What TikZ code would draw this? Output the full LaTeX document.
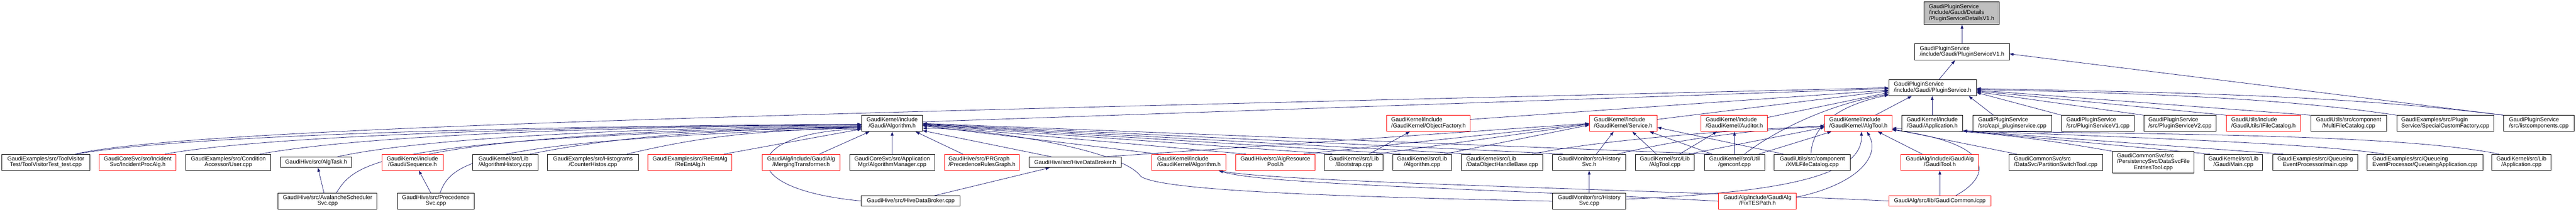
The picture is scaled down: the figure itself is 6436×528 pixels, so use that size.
\documentclass[tikz,border=0pt]{standalone}
\usepackage{fontspec}
\setmainfont{Liberation Sans}
\usetikzlibrary{arrows.meta,calc}
\definecolor{edgec}{HTML}{191970}
\definecolor{redb}{HTML}{FF0000}
\definecolor{grayf}{HTML}{BFBFBF}
\newcommand{\lblA}[1]{#1}
\newcommand{\lblB}[2]{\begin{tabular}{@{}l@{}}#1\\\multicolumn{1}{@{}c@{}}{#2}\end{tabular}}
\newcommand{\lblC}[3]{\begin{tabular}{@{}l@{}}#1\\#2\\\multicolumn{1}{@{}c@{}}{#3}\end{tabular}}
\pgfdeclarelayer{bg}
\pgfdeclarelayer{paper}
\pgfsetlayers{paper,bg,main}
\tikzset{
  box/.style={draw=black, line width=1.2pt, rectangle, inner sep=0pt, fill=white,
    font=\fontsize{14.2}{14.3}\selectfont},
  rbox/.style={box, draw=redb},
  gbox/.style={box, fill=grayf},
  dep/.style={draw=edgec, line width=1pt, -{Triangle[length=10pt,width=7pt]}},
}
\begin{document}
\begin{tikzpicture}[x=1pt,y=-1pt]
\begin{pgfonlayer}{paper}
\fill[white] (0,0) rectangle (6436,528);
\end{pgfonlayer}
\useasboundingbox (0,0) rectangle (6436,528);
% top
\node[gbox,minimum width=188pt,minimum height=56pt] (root) at (4901,33) {\lblC{GaudiPluginService}{/include/Gaudi/Details}{/PluginServiceDetailsV1.h}};
\node[box,minimum width=236pt,minimum height=41pt] (v1h) at (4902,129.5) {\lblB{GaudiPluginService}{/include/Gaudi/PluginServiceV1.h}};
\node[box,minimum width=219pt,minimum height=40pt] (psh) at (4828.5,219) {\lblB{GaudiPluginService}{/include/Gaudi/PluginService.h}};
% row D
\node[box,minimum width=152pt,minimum height=40pt] (algh) at (2229,308) {\lblB{GaudiKernel/include}{/Gaudi/Algorithm.h}};
\node[rbox,minimum width=208pt,minimum height=40pt] (objf) at (3569,308) {\lblB{GaudiKernel/include}{/GaudiKernel/ObjectFactory.h}};
\node[rbox,minimum width=169pt,minimum height=40pt] (svch) at (4055.5,308) {\lblB{GaudiKernel/include}{/GaudiKernel/Service.h}};
\node[rbox,minimum width=166pt,minimum height=40pt] (audh) at (4333,308) {\lblB{GaudiKernel/include}{/GaudiKernel/Auditor.h}};
\node[rbox,minimum width=168pt,minimum height=40pt] (atoolh) at (4643,308) {\lblB{GaudiKernel/include}{/GaudiKernel/AlgTool.h}};
\node[box,minimum width=153pt,minimum height=40pt] (apph) at (4827.5,308) {\lblB{GaudiKernel/include}{/Gaudi/Application.h}};
\node[box,minimum width=197pt,minimum height=40pt] (capi) at (5027.5,308) {\lblB{GaudiPluginService}{/src/capi\_pluginservice.cpp}};
\node[box,minimum width=181pt,minimum height=40pt] (v1cpp) at (5241.5,308) {\lblB{GaudiPluginService}{/src/PluginServiceV1.cpp}};
\node[box,minimum width=181pt,minimum height=40pt] (v2cpp) at (5446.5,308) {\lblB{GaudiPluginService}{/src/PluginServiceV2.cpp}};
\node[rbox,minimum width=186pt,minimum height=40pt] (ifc) at (5655,308) {\lblB{GaudiUtils/include}{/GaudiUtils/IFileCatalog.h}};
\node[box,minimum width=190pt,minimum height=40pt] (mfc) at (5868,308) {\lblB{GaudiUtils/src/component}{/MultiFileCatalog.cpp}};
\node[box,minimum width=243pt,minimum height=40pt] (scf) at (6109.5,308) {\lblB{GaudiExamples/src/Plugin}{Service/SpecialCustomFactory.cpp}};
\node[box,minimum width=176pt,minimum height=40pt] (lcomp) at (6343,308) {\lblB{GaudiPluginService}{/src/listcomponents.cpp}};
% row E
\node[box,minimum width=219pt,minimum height=40pt] (tv) at (114.5,405) {\lblB{GaudiExamples/src/ToolVisitor}{Test/ToolVisitorTest\_test.cpp}};
\node[rbox,minimum width=192pt,minimum height=40pt] (ipa) at (344,405) {\lblB{GaudiCoreSvc/src/Incident}{Svc/IncidentProcAlg.h}};
\node[box,minimum width=213pt,minimum height=40pt] (cau) at (570.5,405) {\lblB{GaudiExamples/src/Condition}{Accessor/User.cpp}};
\node[box,minimum width=178pt,minimum height=26pt] (atask) at (790,405) {\lblA{GaudiHive/src/AlgTask.h}};
\node[rbox,minimum width=153pt,minimum height=40pt] (seqh) at (1030.5,405) {\lblB{GaudiKernel/include}{/Gaudi/Sequence.h}};
\node[box,minimum width=163pt,minimum height=40pt] (ahist) at (1262.5,405) {\lblB{GaudiKernel/src/Lib}{/AlgorithmHistory.cpp}};
\node[box,minimum width=227pt,minimum height=40pt] (chist) at (1481.5,405) {\lblB{GaudiExamples/src/Histograms}{/CounterHistos.cpp}};
\node[rbox,minimum width=210pt,minimum height=40pt] (reent) at (1724,405) {\lblB{GaudiExamples/src/ReEntAlg}{/ReEntAlg.h}};
\node[rbox,minimum width=195pt,minimum height=40pt] (mtrans) at (2001.5,405) {\lblB{GaudiAlg/include/GaudiAlg}{/MergingTransformer.h}};
\node[box,minimum width=212pt,minimum height=40pt] (amgr) at (2229,405) {\lblB{GaudiCoreSvc/src/Application}{Mgr/AlgorithmManager.cpp}};
\node[rbox,minimum width=187pt,minimum height=40pt] (prg) at (2453.5,405) {\lblB{GaudiHive/src/PRGraph}{/PrecedenceRulesGraph.h}};
\node[box,minimum width=231pt,minimum height=26pt] (hdbh) at (2686.5,405) {\lblA{GaudiHive/src/HiveDataBroker.h}};
\node[rbox,minimum width=185pt,minimum height=40pt] (gkalg) at (2970.5,405) {\lblB{GaudiKernel/include}{/GaudiKernel/Algorithm.h}};
\node[rbox,minimum width=199pt,minimum height=40pt] (arp) at (3186.5,405) {\lblB{GaudiHive/src/AlgResource}{Pool.h}};
\node[box,minimum width=147pt,minimum height=40pt] (boot) at (3382.5,405) {\lblB{GaudiKernel/src/Lib}{/Bootstrap.cpp}};
\node[box,minimum width=146pt,minimum height=40pt] (algcpp) at (3553,405) {\lblB{GaudiKernel/src/Lib}{/Algorithm.cpp}};
\node[box,minimum width=204pt,minimum height=40pt] (dohb) at (3753,405) {\lblB{GaudiKernel/src/Lib}{/DataObjectHandleBase.cpp}};
\node[box,minimum width=183pt,minimum height=40pt] (hsvch) at (3970.5,405) {\lblB{GaudiMonitor/src/History}{Svc.h}};
\node[box,minimum width=147pt,minimum height=40pt] (atcpp) at (4159.5,405) {\lblB{GaudiKernel/src/Lib}{/AlgTool.cpp}};
\node[box,minimum width=151pt,minimum height=40pt] (genconf) at (4333.5,405) {\lblB{GaudiKernel/src/Util}{/genconf.cpp}};
\node[box,minimum width=190pt,minimum height=40pt] (xmlfc) at (4528,405) {\lblB{GaudiUtils/src/component}{/XMLFileCatalog.cpp}};
\node[rbox,minimum width=195pt,minimum height=40pt] (gtool) at (4846.5,405) {\lblB{GaudiAlg/include/GaudiAlg}{/GaudiTool.h}};
\node[box,minimum width=234pt,minimum height=40pt] (pst) at (5136,405) {\lblB{GaudiCommonSvc/src}{/DataSvc/PartitionSwitchTool.cpp}};
\node[box,minimum width=204pt,minimum height=54pt] (dsfe) at (5380,405) {\lblC{GaudiCommonSvc/src}{/PersistencySvc/DataSvcFile}{EntriesTool.cpp}};
\node[box,minimum width=146pt,minimum height=40pt] (gmain) at (5580,405) {\lblB{GaudiKernel/src/Lib}{/GaudiMain.cpp}};
\node[box,minimum width=213pt,minimum height=40pt] (qmain) at (5784.5,405) {\lblB{GaudiExamples/src/Queueing}{EventProcessor/main.cpp}};
\node[box,minimum width=289pt,minimum height=40pt] (qapp) at (6058.5,405) {\lblB{GaudiExamples/src/Queueing}{EventProcessor/QueueingApplication.cpp}};
\node[box,minimum width=147pt,minimum height=40pt] (appcpp) at (6299.5,405) {\lblB{GaudiKernel/src/Lib}{/Application.cpp}};
% row F
\node[box,minimum width=247pt,minimum height=40pt] (aval) at (818.5,502) {\lblB{GaudiHive/src/AvalancheScheduler}{Svc.cpp}};
\node[box,minimum width=192pt,minimum height=40pt] (psvc) at (1089,502) {\lblB{GaudiHive/src/Precedence}{Svc.cpp}};
\node[box,minimum width=247pt,minimum height=25pt] (hdbcpp) at (2275.5,501.5) {\lblA{GaudiHive/src/HiveDataBroker.cpp}};
\node[box,minimum width=183pt,minimum height=40pt] (hsvccpp) at (3970.5,502) {\lblB{GaudiMonitor/src/History}{Svc.cpp}};
\node[rbox,minimum width=194pt,minimum height=40pt] (fixtes) at (4391,502) {\lblB{GaudiAlg/include/GaudiAlg}{/FixTESPath.h}};
\node[rbox,minimum width=255pt,minimum height=25pt] (gcomm) at (4846.5,501.5) {\lblA{GaudiAlg/src/lib/GaudiCommon.icpp}};

\begin{pgfonlayer}{bg}
% into Gaudi/Algorithm.h from the left
\draw[dep] ($(tv.north west)+(187,0)$) .. controls +(250,-45) and +(-900,5) .. ($(algh.west)+(0,2)$);
\draw[dep] ($(ipa.north west)+(165,0)$) .. controls +(250,-45) and +(-800,5) .. ($(algh.west)+(0,3)$);
\draw[dep] ($(cau.north west)+(186,0)$) .. controls +(250,-45) and +(-700,5) .. ($(algh.west)+(0,4)$);
\draw[dep] ($(atask.north west)+(142,0)$) .. controls +(200,-45) and +(-600,5) .. ($(algh.west)+(0,6)$);
\draw[dep] ($(aval.north west)+(146,0)$) .. controls (890,400) and (960,345) .. ($(algh.west)+(0,8)$);
\draw[dep] ($(seqh.north west)+(119,0)$) .. controls +(200,-40) and +(-500,5) .. ($(algh.west)+(0,8)$);
\draw[dep] ($(psvc.north west)+(107,0)$) .. controls (1130,400) and (1200,352) .. ($(algh.west)+(0,10)$);
\draw[dep] ($(ahist.north west)+(144,0)$) .. controls +(200,-40) and +(-400,5) .. ($(algh.west)+(0,10)$);
\draw[dep] ($(chist.north west)+(199,0)$) .. controls +(150,-35) and +(-300,5) .. ($(algh.west)+(0,12)$);
\draw[dep] ($(reent.north west)+(191,0)$) -- ($(algh.west)+(0,14)$);
\draw[dep] (hdbcpp.west) .. controls (1820,470) and (1860,330) .. ($(algh.west)+(0,14)$);
\draw[dep] ($(mtrans.north west)+(144,0)$) -- ($(algh.south west)+(20,0)$);
\draw[dep] (amgr.north) -- (algh.south);
\draw[dep] ($(prg.north west)+(46,0)$) -- ($(algh.south east)+(-18,0)$);
% into Gaudi/Algorithm.h from the right
\draw[dep] ($(hdbh.north west)+(57,0)$) -- ($(algh.east)+(0,18)$);
\draw[dep] ($(gkalg.north west)+(17,0)$) -- ($(algh.east)+(0,6)$);
\draw[dep] ($(arp.north west)+(26,0)$) -- ($(algh.east)+(0,5)$);
\draw[dep] ($(boot.north west)+(20,0)$) -- ($(algh.east)+(0,4)$);
\draw[dep] ($(algcpp.north west)+(19,0)$) -- ($(algh.east)+(0,3)$);
\draw[dep] ($(dohb.north west)+(25,0)$) -- ($(algh.east)+(0,2)$);
\draw[dep] ($(hsvch.north west)+(26,0)$) -- ($(algh.east)+(0,1)$);
\draw[dep] ($(genconf.north west)+(14,0)$) -- ($(algh.east)+(0,0)$);
\draw[dep] (hsvccpp.west) .. controls (3300,490) and (2900,475) .. (2850,440) .. controls (2800,370) and (2450,320) .. ($(algh.east)+(0,12)$);
% into PluginService.h
\draw[dep] ($(algh.east)+(0,-4)$) -- ($(psh.west)+(0,2)$);
\draw[dep] ($(tv.north west)+(184,0)$) .. controls +(300,-70) and +(-2500,60) .. ($(psh.west)+(0,0)$);
\draw[dep] ($(objf.east)+(0,-10)$) -- ($(psh.west)+(0,6)$);
\draw[dep] ($(svch.east)+(0,-10)$) -- ($(psh.west)+(0,8)$);
\draw[dep] ($(audh.east)+(0,-15)$) -- ($(psh.west)+(0,12)$);
\draw[dep] ($(genconf.north west)+(101,0)$) .. controls (4430,330) and (4560,262) .. ($(psh.west)+(0,16)$);
\draw[dep] ($(xmlfc.north west)+(92,0)$) .. controls (4528,320) and (4580,266) .. ($(psh.west)+(0,18)$);
\draw[dep] ($(atoolh.north west)+(127,0)$) -- ($(psh.south west)+(58,0)$);
\draw[dep] (apph.north) -- (apph.north |- psh.south);
\draw[dep] ($(capi.north west)+(52,0)$) -- ($(psh.south east)+(-20,0)$);
\draw[dep] (v1cpp.north west) -- ($(psh.east)+(0,12)$);
\draw[dep] (v2cpp.north west) -- ($(psh.east)+(0,10)$);
\draw[dep] (ifc.north west) -- ($(psh.east)+(0,8)$);
\draw[dep] (mfc.north west) -- ($(psh.east)+(0,6)$);
\draw[dep] (scf.north west) .. controls +(-300,-45) and +(400,10) .. ($(psh.east)+(0,4)$);
\draw[dep] (lcomp.north west) .. controls +(-400,-50) and +(500,10) .. ($(psh.east)+(0,2)$);
% top chain
\draw[dep] (lcomp.north west) -- ($(v1h.east)+(0,5)$);
\draw[dep] ($(psh.north west)+(126,0)$) -- ($(v1h.south west)+(101,0)$);
\draw[dep] (v1h.north) -- (v1h.north |- root.south);
% ObjectFactory, Service, Auditor, AlgTool
\draw[dep] ($(boot.north west)+(112,0)$) -- ($(objf.south west)+(58,0)$);
\draw[dep] ($(boot.north west)+(130,0)$) -- ($(svch.west)+(0,2)$);
\draw[dep] ($(algcpp.north west)+(129,0)$) -- ($(svch.west)+(0,4)$);
\draw[dep] ($(hdbh.north west)+(188,0)$) -- ($(svch.west)+(0,0)$);
\draw[dep] ($(arp.north west)+(171,0)$) -- ($(svch.west)+(0,1)$);
\draw[dep] ($(hsvch.north west)+(110,0)$) -- ($(svch.south west)+(61,0)$);
\draw[dep] ($(atcpp.north west)+(53,0)$) -- ($(svch.south west)+(108,0)$);
\draw[dep] ($(genconf.north west)+(20,0)$) -- ($(svch.south east)+(-19,0)$);
\draw[dep] ($(xmlfc.north west)+(23,0)$) -- ($(svch.east)+(0,10)$);
\draw[dep] ($(atcpp.north west)+(111,0)$) -- ($(audh.south west)+(40,0)$);
\draw[dep] (genconf.north) -- (genconf.north |- audh.south);
\draw[dep] ($(atcpp.north west)+(134,0)$) -- ($(atoolh.west)+(0,10)$);
\draw[dep] ($(genconf.north west)+(137,0)$) -- ($(atoolh.south west)+(17,0)$);
\draw[dep] ($(dohb.north west)+(177,0)$) .. controls +(200,-40) and +(-200,10) .. ($(atoolh.west)+(0,6)$);
\draw[dep] ($(hsvch.north west)+(163,0)$) .. controls +(150,-35) and +(-200,8) .. ($(atoolh.west)+(0,8)$);
\draw[dep] ($(hsvccpp.east)+(0,-5)$) .. controls (4450,480) and (4655,440) .. ($(atoolh.south west)+(92,0)$);
\draw[dep] ($(fixtes.east)+(0,-10)$) .. controls (4640,460) and (4700,390) .. ($(atoolh.south west)+(106,0)$);
\draw[dep] ($(gtool.north west)+(54,0)$) -- ($(atoolh.south east)+(-36,0)$);
\draw[dep] ($(gcomm.north east)+(-89,0)$) .. controls (4975,440) and (4990,360) .. ($(atoolh.east)+(0,16)$);
\draw[dep] ($(pst.north west)+(20,0)$) -- ($(atoolh.east)+(0,14)$);
\draw[dep] (dsfe.north west) .. controls +(-200,-35) and +(200,5) .. ($(atoolh.east)+(0,12)$);
% bottom row links
\draw[dep] (gcomm.north) -- (gcomm.north |- gtool.south);
\draw[dep] (fixtes.west) .. controls (3700,470) and (3150,460) .. ($(gkalg.south east)+(-18,0)$);
\draw[dep] (gcomm.west) .. controls (4100,472) and (3200,455) .. ($(gkalg.south east)+(-20,0)$);
\draw[dep] ($(hdbcpp.north east)+(-66,0)$) -- ($(hdbh.south west)+(52,0)$);
\draw[dep] ($(aval.north west)+(115,0)$) -- ($(atask.south west)+(94,0)$);
\draw[dep] ($(psvc.north west)+(84,0)$) -- ($(seqh.south west)+(93,0)$);
\draw[dep] (hsvccpp.north) -- (hsvccpp.north |- hsvch.south);
% Application.h
\draw[dep] ($(gmain.north west)+(15,0)$) -- ($(apph.south east)+(0,-2)$);
\draw[dep] ($(qmain.north west)+(27,0)$) -- ($(apph.south east)+(0,-2)$);
\draw[dep] ($(qapp.north west)+(43,0)$) .. controls (5800,360) and (5400,345) .. ($(apph.south east)+(0,-2)$);
\draw[dep] ($(appcpp.north west)+(18,0)$) .. controls (6000,335) and (5400,335) .. ($(apph.south east)+(0,-2)$);
\end{pgfonlayer}
\end{tikzpicture}
\end{document}
